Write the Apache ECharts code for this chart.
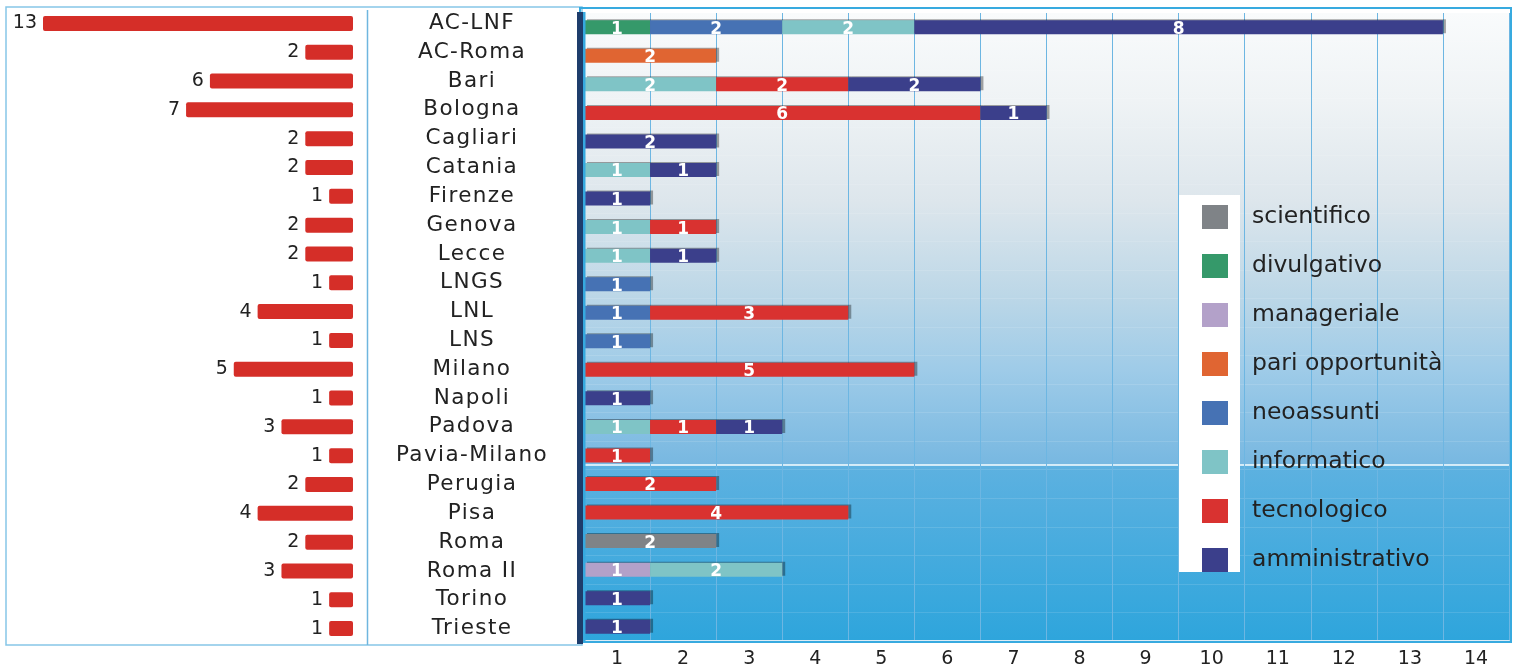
<!DOCTYPE html>
<html>
<head>
<meta charset="utf-8">
<script src="https://cdn.jsdelivr.net/npm/echarts@6/dist/echarts.min.js"></script>
<style>
html,body{margin:0;padding:0;background:#fff;}
#main{width:1519px;height:669px;}
</style>
</head>
<body>
<div id="main"></div>
<script>
// ---- data ----
var categories = ['AC-LNF','AC-Roma','Bari','Bologna','Cagliari','Catania','Firenze','Genova','Lecce','LNGS','LNL','LNS','Milano','Napoli','Padova','Pavia-Milano','Perugia','Pisa','Roma','Roma II','Torino','Trieste'];
var totals = [13,2,6,7,2,2,1,2,2,1,4,1,5,1,3,1,2,4,2,3,1,1];
var scientifico    = [null,null,null,null,null,null,null,null,null,null,null,null,null,null,null,null,null,null,2,null,null,null];
var divulgativo    = [1,null,null,null,null,null,null,null,null,null,null,null,null,null,null,null,null,null,null,null,null,null];
var manageriale    = [null,null,null,null,null,null,null,null,null,null,null,null,null,null,null,null,null,null,null,1,null,null];
var pariOpportunita= [null,2,null,null,null,null,null,null,null,null,null,null,null,null,null,null,null,null,null,null,null,null];
var neoassunti     = [2,null,null,null,null,null,null,null,null,1,1,1,null,null,null,null,null,null,null,null,null,null];
var informatico    = [2,null,2,null,null,1,null,1,1,null,null,null,null,null,1,null,null,null,null,2,null,null];
var tecnologico    = [null,null,2,6,null,null,null,1,null,null,3,null,5,null,1,1,2,4,null,null,null,null];
var amministrativo = [8,null,2,1,2,1,1,null,1,null,null,null,null,1,1,null,null,null,null,null,1,1];
var xTickLabels = ['1','2','3','4','5','6','7','8','9','10','11','12','13','14'];

var seriesNames = ['scientifico','divulgativo','manageriale','pari opportunità','neoassunti','informatico','tecnologico','amministrativo'];
var seriesData = [scientifico,divulgativo,manageriale,pariOpportunita,neoassunti,informatico,tecnologico,amministrativo];
var seriesColors = ['#7f8387','#35996a','#b3a1c9','#e06532','#4672b4','#7fc4c6','#d93230','#3b3f8b'];

// slight letter spacing for category labels (canvas)
(function(){
  var proto = CanvasRenderingContext2D.prototype;
  var orig = proto.fillText;
  proto.fillText = function(t,x,y,m){
    try { this.letterSpacing = (this.font.indexOf('CatLbl') >= 0) ? '1.4px' : '0px'; } catch(e){}
    return m === undefined ? orig.call(this,t,x,y) : orig.call(this,t,x,y,m);
  };
})();

var FONT = "'DejaVu Sans', Verdana, sans-serif";

var chart = echarts.init(document.getElementById('main'), null, {renderer:'canvas'});

var bgGrad = new echarts.graphic.LinearGradient(0,0,0,1,[
  {offset:0, color:'#f9fbfc'},
  {offset:0.14, color:'#eff3f5'},
  {offset:0.30, color:'#dde6ec'},
  {offset:0.45, color:'#bcd7e7'},
  {offset:0.57, color:'#9ecbe8'},
  {offset:0.7175, color:'#78b8e1'},
  {offset:0.7185, color:'#d6ecf8'},
  {offset:0.7205, color:'#d6ecf8'},
  {offset:0.7215, color:'#5db1e0'},
  {offset:1, color:'#2ea5dc'}
]);

var series = [];
// left totals
series.push({
  type:'bar', xAxisIndex:0, yAxisIndex:0, data: totals, barWidth:15,
  itemStyle:{color:'#d52e28', borderRadius:2},
  label:{show:true, position:'left', distance:6, color:'#222', fontSize:19, fontFamily:FONT},
  silent:true, animation:false
});
for (var i=0;i<seriesNames.length;i++){
  series.push({
    name: seriesNames[i], type:'bar', stack:'all', xAxisIndex:1, yAxisIndex:1,
    data: seriesData[i], barWidth:14,
    itemStyle:{color:seriesColors[i], shadowColor:'rgba(0,0,0,0.35)', shadowOffsetX:3, shadowOffsetY:-1, shadowBlur:0},
    label:{show:true, position:'inside', color:'#fff', fontWeight:'bold', fontSize:17, fontFamily:FONT, offset:[0,2]},
    animation:false
  });
}

var option = {
  backgroundColor:'#ffffff',
  animation:false,
  legend:{
    data: seriesNames, orient:'vertical', left:1197, top:200,
    icon:'rect', itemWidth:26, itemHeight:24, itemGap:25, z:5,
    textStyle:{fontSize:23.5, color:'#222', fontFamily:FONT, padding:[0,0,0,19]}
  },
  graphic:[
    {type:'rect', z:0, shape:{x:6, y:7, width:576, height:638}, style:{fill:'none', stroke:'#86c6e8', lineWidth:1.5}},
    {type:'line', z:0, shape:{x1:367.5, y1:10, x2:367.5, y2:645}, style:{stroke:'#6fb6df', lineWidth:1.5}},
    {type:'rect', z:1, shape:{x:580, y:8, width:931, height:634}, style:{fill:'none', stroke:'#38aadf', lineWidth:2}},
    {type:'rect', z:3, shape:{x:577, y:12, width:6, height:632}, style:{fill:'#1e3d6c'}},
    {type:'rect', z:3, shape:{x:583, y:12, width:2.5, height:630}, style:{fill:'#36a9df'}},
    {type:'rect', z:2, shape:{x:1179, y:195, width:61, height:377}, style:{fill:'#ffffff'}}
  ],
  grid:[
    {left:43, top:9, width:310, height:634, containLabel:false},
    {left:584, top:13, width:925, height:629, show:true, backgroundColor:bgGrad, borderWidth:0, containLabel:false}
  ],
  xAxis:[
    {gridIndex:0, type:'value', min:0, max:13, inverse:true, show:false},
    {gridIndex:1, type:'value', min:0, max:14, interval:1, position:'bottom',
      axisLine:{show:true, lineStyle:{color:'#dcecf6', width:3}},
      axisTick:{show:false}, axisLabel:{show:false},
      splitLine:{show:true, lineStyle:{color:'#6db6e2', width:1}}},
    {gridIndex:1, type:'category', data:xTickLabels, boundaryGap:true, position:'bottom',
      axisLine:{show:false}, axisTick:{show:false}, splitLine:{show:false},
      axisLabel:{show:true, interval:0, margin:9, color:'#222', fontSize:19, fontFamily:FONT}}
  ],
  yAxis:[
    {gridIndex:0, type:'category', data:categories, inverse:true, position:'right',
      axisLine:{show:false}, axisTick:{show:false}, splitLine:{show:false},
      axisLabel:{show:true, interval:0, margin:119, align:'center', color:'#222', fontSize:21.5, fontFamily:"CatLbl, 'DejaVu Sans', sans-serif"}},
    {gridIndex:1, type:'category', data:categories, inverse:true,
      axisLine:{show:false}, axisTick:{show:false}, axisLabel:{show:false},
      splitLine:{show:true, lineStyle:{color:'rgba(255,255,255,0.12)', width:1}}}
  ],
  series: series
};
chart.setOption(option);
</script>
</body>
</html>
